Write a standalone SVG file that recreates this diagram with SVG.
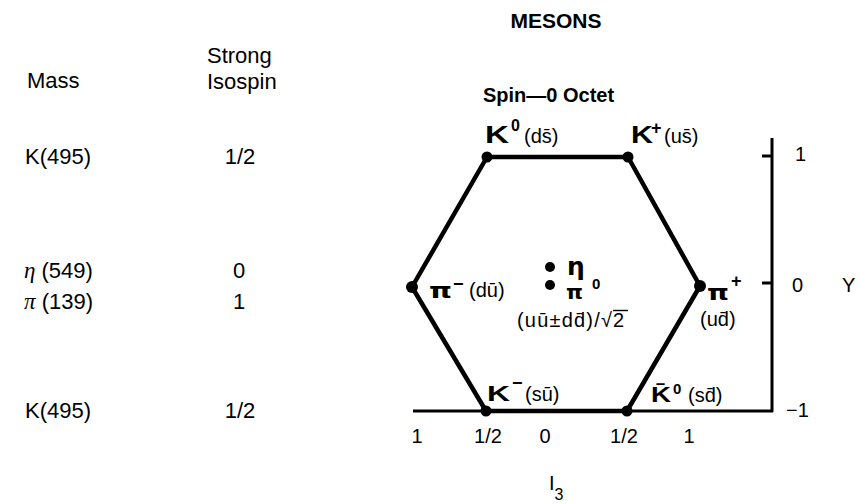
<svg xmlns="http://www.w3.org/2000/svg" width="860" height="504" viewBox="0 0 860 504">
<style>
.t{font-family:"Liberation Sans",Arial,sans-serif;font-size:22px;fill:#000}
.s{font-family:"Liberation Sans",Arial,sans-serif;font-size:20px;fill:#000}
.b{font-family:"Liberation Sans",Arial,sans-serif;font-weight:bold;fill:#000}
.g{font-family:"Liberation Serif","DejaVu Serif",serif;font-style:italic;font-size:23px;fill:#000}
.gb{font-family:"DejaVu Sans","Liberation Sans",sans-serif;font-weight:bold;fill:#000}
.hex{fill:none;stroke:#000;stroke-width:4.5;stroke-linejoin:round}
.ax{fill:none;stroke:#000;stroke-width:3}
.dot{fill:#000}
.m{text-anchor:middle}
</style>
<rect width="860" height="504" fill="#fff"/>
<text class="b m" x="556" y="28" font-size="21">MESONS</text>
<g id="table">
<text class="t" x="27" y="88">Mass</text>
<text class="t" x="207" y="63">Strong</text>
<text class="t" x="207" y="89">Isospin</text>
<text class="t" x="25" y="164">K(495)</text>
<text class="t m" x="240" y="164">1/2</text>
<text class="t" x="24" y="278"><tspan class="g">η</tspan> (549)</text>
<text class="t m" x="239" y="278">0</text>
<text class="t" x="24" y="309"><tspan class="g">π</tspan> (139)</text>
<text class="t m" x="239" y="309">1</text>
<text class="t" x="25" y="418">K(495)</text>
<text class="t m" x="240" y="418">1/2</text>
</g>
<text class="b" x="483" y="102" font-size="20">Spin—0 Octet</text>
<g id="axes">
<line class="ax" x1="413" y1="411" x2="773" y2="411"/>
<line class="ax" x1="772" y1="138" x2="772" y2="412"/>
<line class="ax" x1="762" y1="156" x2="772" y2="156"/>
<line class="ax" x1="762" y1="283" x2="772" y2="283"/>
<text class="s" x="795" y="161">1</text>
<text class="s" x="792" y="292">0</text>
<text class="s" x="842" y="292" font-size="22">Y</text>
<text class="s" x="786" y="417">−1</text>
<text class="s m" x="417" y="443">1</text>
<text class="s m" x="488" y="443">1/2</text>
<text class="s m" x="545" y="443">0</text>
<text class="s m" x="624" y="443">1/2</text>
<text class="s m" x="689" y="443">1</text>
<text class="s" x="549" y="490" font-size="21">I<tspan font-size="16" dy="10">3</tspan></text>
</g>
<g id="connectors">
<polygon class="hex" points="487,157 628,157 700,286 627,411 486,411 412,287"/>
</g>
<g id="K0">
<circle class="dot" cx="487" cy="157" r="5.5"/>
<text class="b" x="485" y="143" font-size="23" textLength="24" lengthAdjust="spacingAndGlyphs">K</text>
<text class="b" x="511" y="131" font-size="16">0</text>
<text class="s" x="524" y="143">(ds̄)</text>
</g>
<g id="Kplus">
<circle class="dot" cx="628" cy="157" r="5.5"/>
<text class="b" x="631" y="143" font-size="23" textLength="22" lengthAdjust="spacingAndGlyphs">K</text>
<text class="b" x="651" y="134" font-size="18">+</text>
<text class="s" x="664" y="143">(us̄)</text>
</g>
<g id="piminus">
<circle class="dot" cx="412" cy="287" r="6"/>
<text class="gb" x="429" y="298" font-size="22" textLength="23" lengthAdjust="spacingAndGlyphs">π</text>
<text class="b" x="453" y="290" font-size="18">−</text>
<text class="s" x="469" y="297">(dū)</text>
</g>
<g id="piplus">
<circle class="dot" cx="700" cy="286" r="6"/>
<text class="gb" x="707" y="300" font-size="22" textLength="22" lengthAdjust="spacingAndGlyphs">π</text>
<text class="b" x="731" y="287" font-size="18">+</text>
<text class="s" x="700" y="326">(ud̄)</text>
</g>
<g id="center">
<circle class="dot" cx="550" cy="267" r="5"/>
<circle class="dot" cx="550" cy="285" r="5"/>
<text class="gb" x="567" y="275" font-size="25">η</text>
<text class="gb" x="566" y="299" font-size="20" textLength="17" lengthAdjust="spacingAndGlyphs">π</text>
<text class="b" x="592" y="289" font-size="15">0</text>
<text class="s" x="517" y="327" letter-spacing="1.2">(uū±dd̄)/√2</text>
<line x1="613" y1="310.5" x2="628" y2="310.5" stroke="#000" stroke-width="1.4"/>
</g>
<g id="Kminus">
<circle class="dot" cx="486" cy="411" r="5.5"/>
<text class="b" x="487" y="401" font-size="22" textLength="23" lengthAdjust="spacingAndGlyphs">K</text>
<text class="b" x="512" y="389" font-size="18">−</text>
<text class="s" x="525" y="401">(sū)</text>
</g>
<g id="K0bar">
<circle class="dot" cx="627" cy="411" r="5.5"/>
<text class="b" x="651" y="402" font-size="22" textLength="20" lengthAdjust="spacingAndGlyphs">K̄</text>
<text class="b" x="673" y="394" font-size="15">0</text>
<text class="s" x="688" y="402">(sd̄)</text>
</g>
</svg>
